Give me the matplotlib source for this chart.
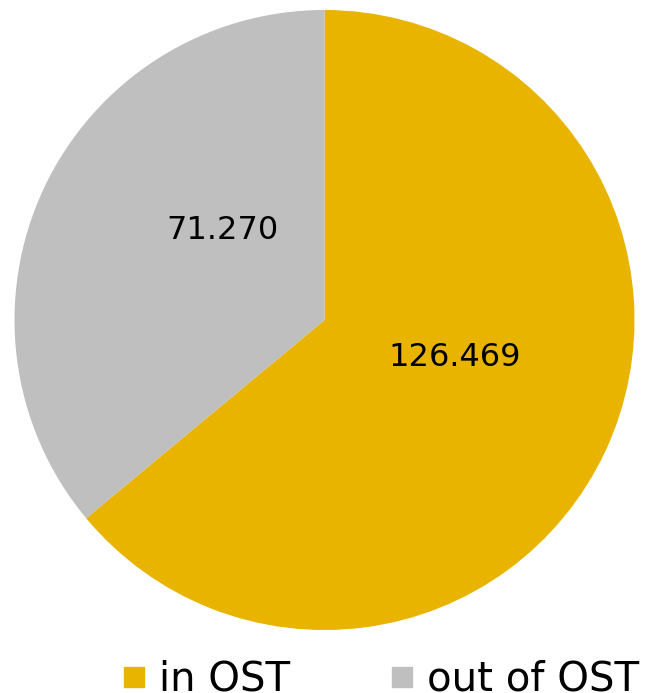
import matplotlib
matplotlib.use("Agg")
from matplotlib import pyplot as plt
from matplotlib.lines import Line2D

labels = ["in OST", "out of OST"]
values = [126.469, 71.270]
value_text = ["126.469", "71.270"]
colors = ["#E8B400", "#BFBFBF"]

plt.rcParams['font.family'] = ['DejaVu Sans']

fig = plt.figure(figsize=(6.46, 6.93), dpi=100)
ax = fig.add_axes([14.5 / 646, 63 / 693, 620 / 646, 620 / 693])

wedges, _ = ax.pie(values, colors=colors, startangle=90, counterclock=False,
                   radius=1.0, wedgeprops=dict(linewidth=0))
ax.set_xlim(-1, 1)
ax.set_ylim(-1, 1)
ax.set_aspect('equal')
ax.axis('off')

# value labels inside the slices
label_pos = [(0.42, -0.12), (-0.33, 0.29)]
for (x, y), t in zip(label_pos, value_text):
    ax.text(x, y, t, ha='center', va='center', fontsize=23, color='black')

handles = [Line2D([], [], marker='s', linestyle='none', markersize=15,
                  markerfacecolor=c, markeredgecolor=c) for c in colors]
fig.legend(handles, labels, loc='lower center', ncol=2, frameon=False,
           bbox_to_anchor=(0.589, -0.062), fontsize=29, handlelength=0.6,
           handletextpad=0.3, columnspacing=2.5)

fig.savefig("out.png", dpi=100)
